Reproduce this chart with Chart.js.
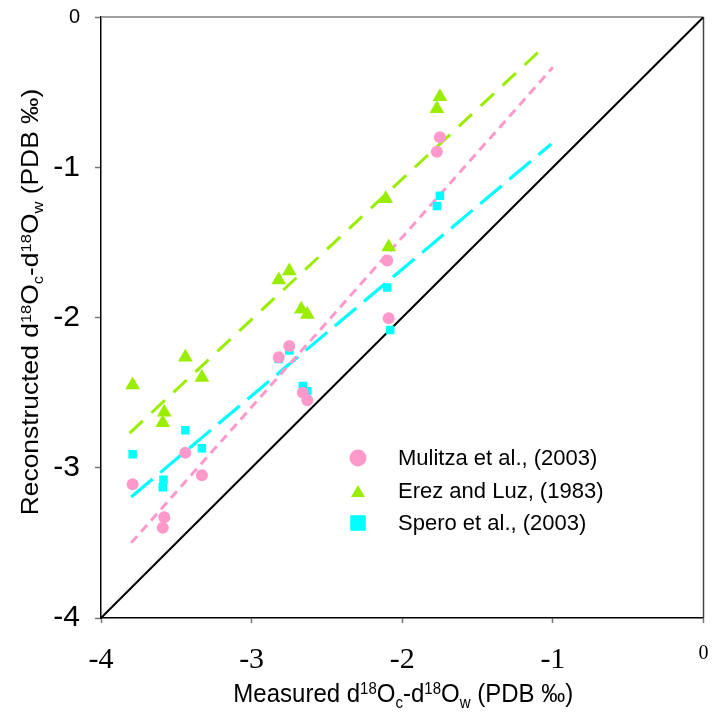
<!DOCTYPE html>
<html>
<head>
<meta charset="utf-8">
<script src="https://cdn.jsdelivr.net/npm/chart.js@4.4.1/dist/chart.umd.min.js"></script>
<style>
html,body{margin:0;padding:0;background:#fff;}
#wrap{width:712px;height:718px;}
</style>
</head>
<body>
<div id="wrap"><canvas id="c" width="712" height="718"></canvas></div>
<script>
// ---- data ----
const xTicks = [-4, -3, -2, -1, 0];
const yTicks = [-4, -3, -2, -1, 0];

const seriesLabels = ['Mulitza et al., (2003)', 'Erez and Luz, (1983)', 'Spero et al., (2003)'];

const mulitzaX = [-3.79, -3.58, -3.59, -3.44, -3.33, -2.75, -2.82, -2.66, -2.63, -2.10, -2.09, -1.77, -1.75];
const mulitzaY = [-3.11, -3.33, -3.40, -2.90, -3.05, -2.19, -2.265, -2.50, -2.55, -1.62, -2.005, -0.897, -0.80];

const erezX = [-3.79, -3.58, -3.59, -3.44, -3.33, -2.82, -2.75, -2.67, -2.63, -2.11, -2.09, -1.77, -1.75];
const erezY = [-2.45, -2.63, -2.70, -2.265, -2.40, -1.75, -1.69, -1.945, -1.98, -1.21, -1.53, -0.61, -0.53];

const speroX = [-3.79, -3.585, -3.59, -3.44, -3.33, -2.82, -2.75, -2.66, -2.63, -2.10, -2.08, -1.77, -1.75];
const speroY = [-2.91, -3.08, -3.13, -2.75, -2.87, -2.276, -2.22, -2.456, -2.49, -1.80, -2.083, -1.258, -1.19];

// regression line end points
const erezFitX = [-3.81, -1.06];
const erezFitY = [-2.77, -0.20];
const mulitzaFitX = [-3.80, -1.00];
const mulitzaFitY = [-3.50, -0.335];
const speroFitX = [-3.80, -1.01];
const speroFitY = [-3.195, -0.845];

// 1:1 line
const oneToOneX = [-4, 0];
const oneToOneY = [-4, 0];

const xTitleParts = [['Measured d','n'],['18','sup'],['O','n'],['c','sub'],['-d','n'],['18','sup'],['O','n'],['w','sub'],[' (PDB \u2030)','n']];
const yTitleParts = [['Reconstructed d','n'],['18','sup'],['O','n'],['c','sub'],['-d','n'],['18','sup'],['O','n'],['w','sub'],[' (PDB \u2030)','n']];

// ---- helpers ----
const zip = (xs, ys) => xs.map((x, i) => ({x: x, y: ys[i]}));

const PINK = '#ff99cc';
const GREEN = '#99ee00';
const CYAN = '#00ffff';

const SANS = '"Liberation Sans", Arial, sans-serif';
const SERIF = '"Liberation Serif", "Times New Roman", serif';

function partFont(k) {
  return (k === 'n' ? '24px ' : '15px ') + SANS;
}
function richWidth(ctx, parts) {
  let w = 0;
  for (const [t, k] of parts) { ctx.font = partFont(k); w += ctx.measureText(t).width; }
  return w;
}
function drawRich(ctx, parts, x) {
  for (const [t, k] of parts) {
    ctx.font = partFont(k);
    const dy = k === 'sup' ? -7 : (k === 'sub' ? 5 : 0);
    ctx.fillText(t, x, dy);
    x += ctx.measureText(t).width;
  }
}

const framePlugin = {
  id: 'frame',
  beforeDatasetsDraw(chart) {
    const {ctx, chartArea: a} = chart;
    ctx.save();
    ctx.lineWidth = 1.5;
    ctx.strokeStyle = '#808080';
    ctx.beginPath(); ctx.moveTo(a.left, a.top); ctx.lineTo(a.right, a.top); ctx.stroke();
    ctx.strokeStyle = '#444444';
    ctx.beginPath(); ctx.moveTo(a.right, a.top); ctx.lineTo(a.right, a.bottom); ctx.stroke();
    ctx.restore();
  }
};

const titlePlugin = {
  id: 'richTitles',
  afterDraw(chart) {
    const ctx = chart.ctx;
    const a = chart.chartArea;
    ctx.save();
    ctx.fillStyle = '#000';
    ctx.textBaseline = 'alphabetic';
    ctx.textAlign = 'left';
    // x title
    ctx.save();
    ctx.translate((a.left + a.right) / 2 + 1, 702);
    ctx.scale(1, 1.1);
    drawRich(ctx, xTitleParts, -richWidth(ctx, xTitleParts) / 2);
    ctx.restore();
    // y title
    ctx.save();
    ctx.translate(38, 302);
    ctx.rotate(-Math.PI / 2);
    ctx.scale(1.1, 1);
    drawRich(ctx, yTitleParts, -richWidth(ctx, yTitleParts) / 2);
    ctx.restore();
    ctx.restore();
  }
};

const legendPlugin = {
  id: 'insideLegend',
  afterDatasetsDraw(chart) {
    const ctx = chart.ctx;
    const a = chart.chartArea;
    const mx = a.left + 257, tx = a.left + 297;
    const rows = [458, 491, 523];
    const radii = [8.5, 8, 11];
    const yAdj = [0, 2, 0];
    ctx.save();
    for (let i = 0; i < 3; i++) {
      const ds = chart.data.datasets[i];
      ctx.fillStyle = ds.backgroundColor;
      Chart.helpers.drawPoint(ctx, {pointStyle: ds.pointStyle, radius: radii[i], rotation: 0, borderWidth: 0}, mx, rows[i] + yAdj[i]);
      ctx.fillStyle = '#000';
      ctx.font = '22px ' + SANS;
      ctx.textBaseline = 'middle';
      ctx.textAlign = 'left';
      ctx.fillText(ds.label, tx, rows[i] + 1);
    }
    ctx.restore();
  }
};

const pointDs = (label, xs, ys, color, style, r) => ({
  label: label, data: zip(xs, ys), pointStyle: style, pointRadius: r,
  backgroundColor: color, borderColor: color, pointBorderWidth: 0, borderWidth: 0,
  showLine: false, order: 0
});
const lineDs = (label, xs, ys, color, dash, w) => ({
  label: label, data: zip(xs, ys), showLine: true, pointRadius: 0,
  borderColor: color, backgroundColor: color, borderWidth: w, borderDash: dash,
  borderCapStyle: 'butt', fill: false, order: 1
});

new Chart(document.getElementById('c'), {
  type: 'scatter',
  data: {
    datasets: [
      pointDs(seriesLabels[0], mulitzaX, mulitzaY, PINK, 'circle', 6),
      pointDs(seriesLabels[1], erezX, erezY, GREEN, 'triangle', 8.5),
      pointDs(seriesLabels[2], speroX, speroY, CYAN, 'rect', 6),
      lineDs('Erez fit', erezFitX, erezFitY, GREEN, [18, 12], 3),
      lineDs('Mulitza fit', mulitzaFitX, mulitzaFitY, PINK, [9, 6], 3),
      lineDs('Spero fit', speroFitX, speroFitY, CYAN, [28, 10], 3.2),
      lineDs('1:1', oneToOneX, oneToOneY, '#000000', [], 2)
    ]
  },
  options: {
    responsive: false,
    animation: false,
    events: [],
    layout: {padding: {top: 17, right: 7, left: 0, bottom: 0}},
    plugins: {legend: {display: false}, tooltip: {enabled: false}, title: {display: false}},
    scales: {
      x: {
        type: 'linear', position: 'bottom', min: -4, max: 0,
        afterBuildTicks: (s) => { s.ticks = xTicks.map(v => ({value: v})); },
        afterFit: (s) => { s.height = 100; s.paddingLeft = 0; s.paddingRight = 0; },
        grid: {drawOnChartArea: false, drawTicks: true, tickLength: 5, tickColor: '#777777', tickWidth: 1.5},
        border: {display: true, color: '#000000', width: 1.5},
        ticks: {
          color: '#000', padding: 19, maxRotation: 0, autoSkip: false,
          callback: (v) => String(v),
          font: (c) => ({family: SERIF, size: (c.tick && c.tick.value === 0) ? 20 : 30})
        }
      },
      y: {
        type: 'linear', position: 'left', min: -4, max: 0,
        afterBuildTicks: (s) => { s.ticks = yTicks.map(v => ({value: v})); },
        afterFit: (s) => { s.width = 101; s.paddingTop = 0; s.paddingBottom = 0; },
        grid: {drawOnChartArea: false, drawTicks: true, tickLength: 6, tickColor: '#777777', tickWidth: 1.5},
        border: {display: true, color: '#000000', width: 1.5},
        ticks: {
          color: '#000', padding: 15, autoSkip: false,
          callback: (v) => String(v),
          font: (c) => ({family: SANS, size: (c.tick && c.tick.value === 0) ? 20 : 30})
        }
      }
    }
  },
  plugins: [framePlugin, legendPlugin, titlePlugin]
});
</script>
</body>
</html>
